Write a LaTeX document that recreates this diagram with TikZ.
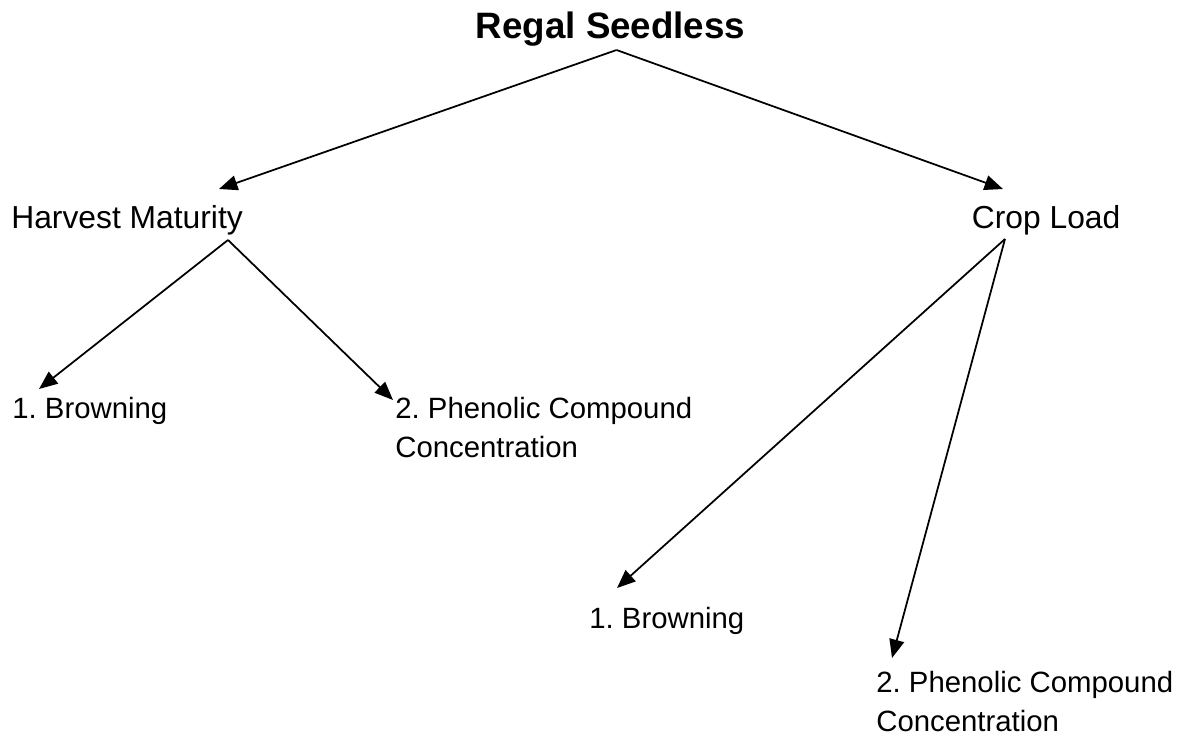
\documentclass[tikz,border=0pt]{standalone}
\usepackage{fontspec}
\setmainfont{Liberation Sans}
\usepackage{tikz}
\usetikzlibrary{arrows.meta,calc}
\frenchspacing

\tikzset{
  headline/.style={anchor=base west, inner sep=0pt, font=\fontsize{20.9}{25}\selectfont\bfseries},
  factorlabel/.style={anchor=base west, inner sep=0pt, font=\fontsize{18.1}{22}\selectfont},
  effectlabel/.style={anchor=base west, inner sep=0pt, align=left, font=\fontsize{16.7}{22.1}\selectfont},
  link/.style={-{Triangle[length=10.5pt,width=8.5pt]}, line width=1pt},
}

\begin{document}
\begin{tikzpicture}[x=0.02cm, y=-0.02cm]
\useasboundingbox (0,0) rectangle (1181,735);

% Cultivar
\node[headline] (cultivar) at (475.5, 38) {Regal Seedless};

% Factors
\node[factorlabel] (maturity) at (11, 228) {Harvest Maturity};
\node[factorlabel] (cropload) at (971.5, 228) {Crop Load};

% Effects of harvest maturity (base = last line)
\node[effectlabel] (matbrown) at (12, 418) {1. Browning};
\node[effectlabel] (matphen) at (395, 457) {2. Phenolic Compound\\Concentration};

% Effects of crop load
\node[effectlabel] (loadbrown) at (589, 628) {1. Browning};
\node[effectlabel] (loadphen) at (876, 731) {2. Phenolic Compound\\Concentration};

% Arrows
\draw[link] ($(cultivar.base)+(6,12)$) -- ($(maturity.base west)+(208,-39)$);
\draw[link] ($(cultivar.base)+(6,12)$) -- ($(cropload.base west)+(31.5,-39)$);

\draw[link] ($(maturity.base west)+(217,12)$) -- ($(matbrown.base west)+(27,-29)$);
\draw[link] ($(maturity.base west)+(217,12)$) -- ($(matphen.base west)+(-2,-57)$);

\draw[link] ($(cropload.base west)+(33.5,11)$) -- ($(loadbrown.base west)+(28,-40)$);
\draw[link] ($(cropload.base west)+(33.5,11)$) -- ($(loadphen.base west)+(16,-73)$);

\end{tikzpicture}
\end{document}
